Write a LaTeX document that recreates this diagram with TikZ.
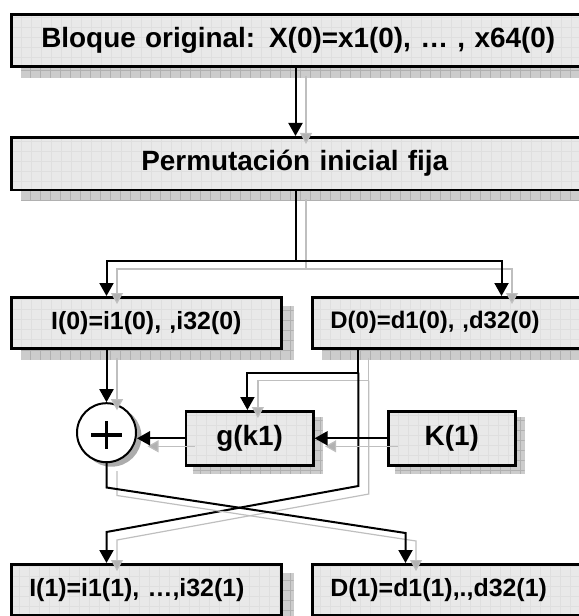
\documentclass[tikz,border=0pt]{standalone}
\usepackage{fontspec}
\setmainfont{Liberation Sans}
\usetikzlibrary{arrows.meta,backgrounds}

\tikzset{
  panel/.style={draw=black, line width=2.6bp, fill=gray!17, anchor=north west,
    inner ysep=0pt, align=left,
    path picture={\draw[gray!25, line width=0.4bp]
      (path picture bounding box.south west) grid[step=10bp]
      (path picture bounding box.north east);}},
  shadowbox/.style={fill=gray!40,
    path picture={\draw[gray!62, line width=0.5bp]
      (path picture bounding box.south west) grid[step=10bp]
      (path picture bounding box.north east);}},
  bigtxt/.style={font=\bfseries\fontsize{28}{30}\selectfont},
  midtxt/.style={font=\bfseries\fontsize{25}{28}\selectfont},
  link/.style={draw=black, line width=2bp, -{Triangle[length=13bp,width=14bp]}},
  echo/.style={draw=gray!50, line width=1.2bp,
    -{Triangle[length=11bp,width=12bp,fill=gray!60]},
    transform canvas={shift={(10.5bp,-8bp)}}},
}

% a connector together with its soft grey copy
\newcommand\bothpath[2][]{\draw[echo,#1] #2; \draw[link,#1] #2;}

\begin{document}
\begin{tikzpicture}[x=1bp, y=-1bp]
\useasboundingbox (0,0) rectangle (579,616);

% blocks
\node[panel, bigtxt, text width=550bp, inner xsep=30bp, minimum height=51.5bp]
  (orig) at (10,13.5) {Bloque original: X(0)=x1(0), … , x64(0)};
\node[panel, bigtxt, text width=350bp, inner xsep=130bp, minimum height=52.5bp]
  (perm) at (10,136) {Permutación inicial fija};
\node[panel, midtxt, text width=250bp, inner xsep=10bp, align=center,
  minimum height=51bp] (l0) at (10,296) {I(0)=i1(0), ,i32(0)};
\node[panel, font=\bfseries\fontsize{24}{27}\selectfont, text width=273bp,
  inner xsep=18bp, minimum height=51bp]
  (r0) at (311,296) {D(0)=d1(0), ,d32(0)};
\node[panel, bigtxt, text width=107.4bp, inner xsep=10bp, align=center,
  minimum height=54bp] (g) at (184.6,410) {g(k1)};
\node[panel, bigtxt, text width=107bp, inner xsep=10bp, align=center,
  minimum height=54bp] (key) at (387,410) {K(1)};
\node[panel, midtxt, text width=234bp, inner xsep=18bp, minimum height=51bp]
  (l1) at (10,563) {I(1)=i1(1), …,i32(1)};
\node[panel, midtxt, text width=273bp, inner xsep=18bp, minimum height=51bp]
  (r1) at (311,563) {D(1)=d1(1),.,d32(1)};

% XOR
\node[circle, draw=black, line width=2bp, fill=white, minimum size=59bp,
  inner sep=0pt] (sum) at (106.5,432.7) {};
\draw[line width=3.2bp] ([shift={(-15.5,2.3)}]sum.center) -- ([shift={(15.5,2.3)}]sum.center);
\draw[line width=3.2bp] ([shift={(0,-11.5)}]sum.center) -- ([shift={(0,16)}]sum.center);

% drop shadows
\begin{scope}[on background layer]
  \foreach \n in {orig,perm,l0,r0,l1,r1}
    \path[shadowbox] ([shift={(11,10)}]\n.north west) rectangle ([shift={(11,10)}]\n.south east);
  \foreach \n in {g,key}
    \path[shadowbox] ([shift={(8,7)}]\n.north west) rectangle ([shift={(8,7)}]\n.south east);
  \fill[gray!65] ([shift={(5,4)}]sum.center) circle[radius=30bp];
\end{scope}

% routing points
\coordinate (cM) at (295.5,0);
\coordinate (cL) at (106.5,0);
\coordinate (cR) at (501.5,0);
\coordinate (cD) at (358.3,0);
\coordinate (cG) at (247.4,0);
\coordinate (jT) at (295.5,261);
\coordinate (jD) at (358.3,372.7);
\coordinate (kD) at (358.3,486);
\coordinate (kL) at (106.5,532);
\coordinate (kS) at (106.5,487.5);
\coordinate (kR) at (405.5,533);

% connectors
\bothpath{(orig.south -| cM) -- (perm.north -| cM)}
\bothpath{(perm.south -| cM) -- (jT) -| (l0.north -| cL)}
\bothpath{(jT) -| (r0.north -| cR)}
\bothpath{(l0.south -| sum.north) -- (sum.north)}
\bothpath{(r0.south -| cD) -- (jD) -| (g.north -| cG)}
\bothpath{(jD) -- (kD) -- (kL) -- (l1.north -| kL)}
\bothpath{(sum.south) -- (kS) -- (kR) -- (r1.north -| kR)}
\bothpath{(key.west) -- (g.east)}
\bothpath{(g.west) -- (g.west -| sum.east)}
\end{tikzpicture}
\end{document}
